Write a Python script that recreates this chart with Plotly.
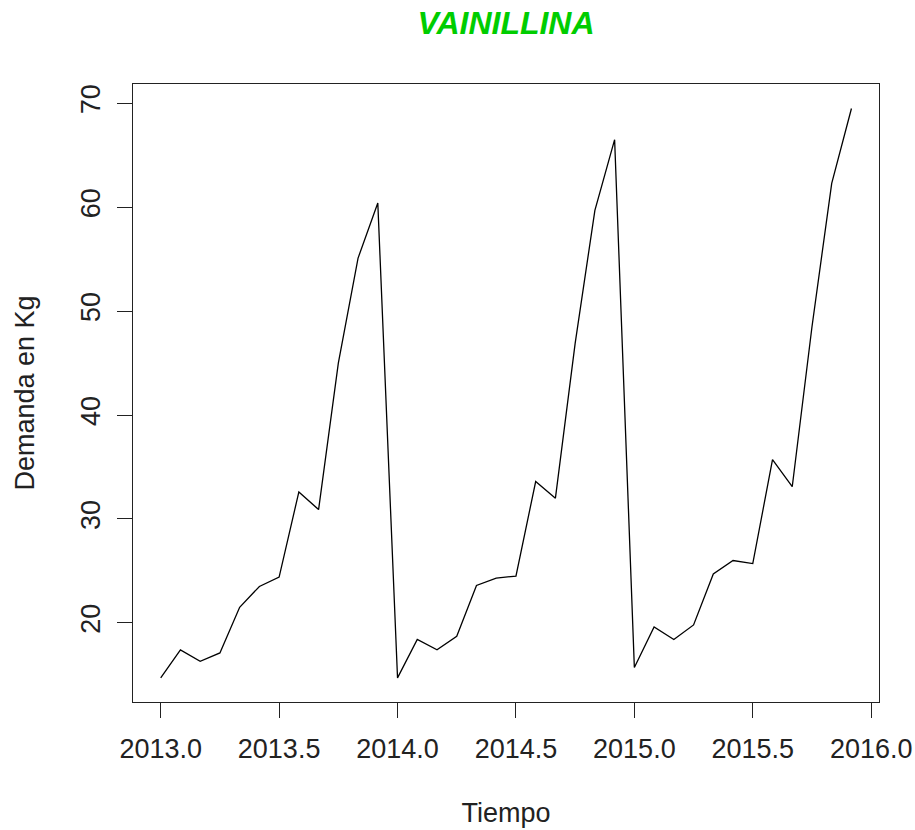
import plotly.graph_objects as go

# Monthly demand of vanillin (kg), Jan 2013 - Dec 2015
start_year = 2013
months_per_year = 12
demanda = [
    14.7, 17.4, 16.3, 17.1, 21.5, 23.5, 24.4, 32.6, 30.9, 45.0, 55.1, 60.4,
    14.7, 18.4, 17.4, 18.7, 23.6, 24.3, 24.5, 33.6, 32.0, 46.9, 59.7, 66.5,
    15.7, 19.6, 18.4, 19.8, 24.7, 26.0, 25.7, 35.7, 33.1, 48.5, 62.3, 69.5,
]
tiempo = [start_year + i / months_per_year for i in range(len(demanda))]

x_ticks = [2013.0, 2013.5, 2014.0, 2014.5, 2015.0, 2015.5, 2016.0]
y_ticks = [20, 30, 40, 50, 60, 70]

font_family = "Liberation Sans, Arial, Helvetica, sans-serif"

fig = go.Figure(
    go.Scatter(
        x=tiempo,
        y=demanda,
        mode="lines",
        line=dict(color="black", width=1.3),
        showlegend=False,
        hoverinfo="x+y",
    )
)

axis_common = dict(
    showgrid=False,
    zeroline=False,
    showline=True,
    mirror=True,
    linecolor="#222222",
    linewidth=1.4,
    ticks="outside",
    ticklen=15,
    tickwidth=1.2,
    tickcolor="#222222",
    tickfont=dict(family=font_family, size=27, color="#222222"),
    automargin=False,
)

fig.update_layout(
    width=915,
    height=830,
    margin=dict(l=133, r=36, t=84, b=128),
    paper_bgcolor="white",
    plot_bgcolor="white",
    title=dict(
        text="<b><i>VAINILLINA</i></b>",
        x=0.553,
        xanchor="center",
        y=0.973,
        yanchor="middle",
        font=dict(family=font_family, size=32, color="#00CD00"),
    ),
    xaxis=dict(
        axis_common,
        range=[2012.883, 2016.033],
        tickvals=x_ticks,
        ticktext=[f"{v:.1f}" for v in x_ticks],
        ticklabelstandoff=7,
        title=dict(
            text="Tiempo",
            font=dict(family=font_family, size=27, color="#222222"),
            standoff=40,
        ),
    ),
    yaxis=dict(
        axis_common,
        range=[12.38, 71.86],
        tickvals=y_ticks,
        ticktext=[str(v) for v in y_ticks],
        tickangle=-90,
        ticklabelstandoff=6,
        title=dict(
            text="Demanda en Kg",
            font=dict(family=font_family, size=27, color="#222222"),
            standoff=33,
        ),
    ),
)

fig.write_html("out.html")
